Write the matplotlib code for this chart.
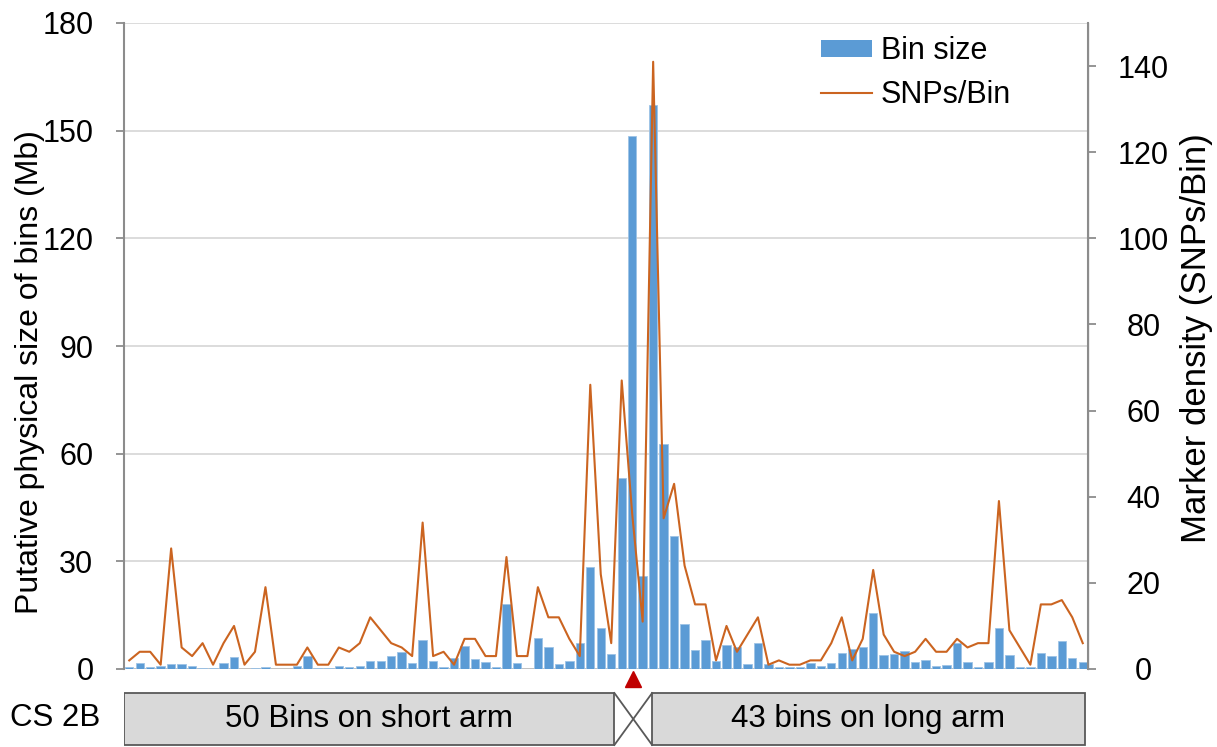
import numpy as np
import matplotlib
matplotlib.use("Agg")
import matplotlib.pyplot as plt
from matplotlib.patches import Rectangle
from matplotlib.lines import Line2D

plt.rcParams['font.family'] = ['Liberation Sans', 'DejaVu Sans']

# bin sizes (Mb) along chromosome 2B, short arm then long arm
bin_size = [0.5, 1.7, 0.6, 0.9, 1.4, 1.4, 0.9, 0.3, 0.3, 1.6,
            3.4, 0.1, 0.4, 0.6, 0.1, 0.1, 0.9, 3.7, 0.3, 0.3,
            0.9, 0.5, 0.8, 2.3, 2.3, 3.5, 4.6, 1.6, 8.2, 2.1,
            0.65, 3.0, 6.3, 2.8, 1.9, 0.65, 18.1, 1.6, 0.1, 8.5,
            6.2, 1.5, 2.3, 7.2, 28.3, 11.3, 4.1, 53.3, 148.4, 25.9,
            157.1, 62.8, 37.1, 12.5, 5.3, 8.0, 2.2, 6.7, 6.1, 1.4,
            7.2, 1.4, 0.65, 0.65, 0.65, 1.8, 0.9, 1.6, 4.5, 5.7,
            6.0, 15.6, 3.8, 4.3, 4.9, 2.0, 2.6, 0.9, 1.1, 7.2,
            2.0, 0.5, 2.0, 11.3, 4.0, 0.5, 0.5, 4.4, 3.5, 7.7,
            3.0, 1.9]

# markers per bin
snps_per_bin = [2, 4, 4, 1, 28, 5, 3, 6, 1, 6,
                10, 1, 4, 19, 1, 1, 1, 5, 1, 1,
                5, 4, 6, 12, 9, 6, 5, 3, 34, 3,
                4, 1, 7, 7, 3, 3, 26, 3, 3, 19,
                12, 12, 7, 3, 66, 22, 6, 67, 36, 11,
                141, 35, 43, 24, 15, 15, 2, 10, 4, 8,
                12, 1, 2, 1, 1, 2, 2, 6, 12, 2,
                7, 23, 8, 4, 3, 4, 7, 4, 4, 7,
                5, 6, 6, 39, 9, 5, 1, 15, 15, 16,
                12, 6]

left_ticks = [0, 30, 60, 90, 120, 150, 180]
right_ticks = [0, 20, 40, 60, 80, 100, 120, 140]
centromere = 48.1  # position of the centromere in bin units
short_arm_label = "50 Bins on short arm"
long_arm_label = "43 bins on long arm"

blue = '#5B9BD5'
orange = '#CB6420'
W, H = 1217, 747

fig = plt.figure(figsize=(W / 100, H / 100), dpi=100)
ax = fig.add_axes([124 / W, 78 / H, 964 / W, 646 / H])
x = np.arange(len(bin_size))

ax.bar(x, bin_size, width=0.8, color=blue, edgecolor='#9DC3E6', linewidth=0.6, zorder=2)
ax.set_xlim(-0.5, 91.5)
ax.set_ylim(0, 180)
ax.set_yticks(left_ticks)
ax.set_xticks([])
ax.yaxis.grid(True, color='#D9D9D9', linewidth=1.3, zorder=0)
ax.set_axisbelow(True)
for s in ['top', 'bottom']:
    ax.spines[s].set_visible(False)
ax.spines['left'].set_color('#8C8C8C')
ax.spines['left'].set_linewidth(1.5)
ax.axhline(0, color='#BFBFBF', linewidth=1.3, zorder=1)
ax.tick_params(axis='y', labelsize=22, length=6, width=1.3, color='#8C8C8C', pad=16)
ax.set_ylabel('Putative physical size of bins (Mb)', fontsize=23)
ax.yaxis.set_label_coords((45 - 124) / 964, (669 - 372) / 646)

ax2 = ax.twinx()
ax2.plot(x, snps_per_bin, color=orange, linewidth=1.5, zorder=3)
ax2.set_ylim(0, 150)
ax2.set_yticks(right_ticks)
for s in ['top', 'bottom', 'left']:
    ax2.spines[s].set_visible(False)
ax2.spines['right'].set_color('#8C8C8C')
ax2.spines['right'].set_linewidth(1.5)
ax2.tick_params(axis='y', labelsize=22, length=6, width=1.3, color='#8C8C8C', pad=34)
for t in ax2.get_yticklabels():
    t.set_horizontalalignment('center')
ax2.set_ylabel('Marker density (SNPs/Bin)', fontsize=25)
ax2.yaxis.set_label_coords((1180 - 124) / 964, (669 - 338) / 646)

handles = [Rectangle((0, 0), 1, 1, facecolor=blue, edgecolor='none'),
           Line2D([], [], color=orange, linewidth=1.5)]
leg = fig.legend(handles, ['Bin size', 'SNPs/Bin'], loc='upper left',
                 bbox_to_anchor=(809 / W, 1 - 24 / H), frameon=False,
                 fontsize=22, handlelength=1.65, handleheight=0.5,
                 handletextpad=0.3, labelspacing=0.45, borderaxespad=0)

# centromere marker under the axis
ax.plot([centromere], [-0.016], marker='^', color='#C00000', markersize=11,
        transform=ax.get_xaxis_transform(), clip_on=False, zorder=5)

# chromosome diagram
axc = fig.add_axes([124 / W, 0, 964 / W, 57 / H])
axc.set_xlim(-0.5, 91.5)
axc.set_ylim(0, 57)
axc.axis('off')
edge = '#595959'
gray = '#D9D9D9'
left_end, right_start, right_end = 46.3, 49.9, 91.2
axc.add_patch(Rectangle((-0.5, 2), left_end + 0.5, 52, facecolor=gray, edgecolor=edge, linewidth=1.3))
axc.add_patch(Rectangle((right_start, 2), right_end - right_start, 52, facecolor=gray, edgecolor=edge, linewidth=1.3))
axc.plot([left_end, right_start], [54, 2], color=edge, linewidth=1.3)
axc.plot([left_end, right_start], [2, 54], color=edge, linewidth=1.3)
axc.text((left_end - 0.5) / 2, 28, short_arm_label, ha='center', va='center', fontsize=22.5)
axc.text((right_start + right_end) / 2, 28, long_arm_label, ha='center', va='center', fontsize=22.5)
fig.text(55 / W, (H - 718) / H, 'CS 2B', ha='center', va='center', fontsize=22.5)

fig.savefig('out.png', dpi=100)
